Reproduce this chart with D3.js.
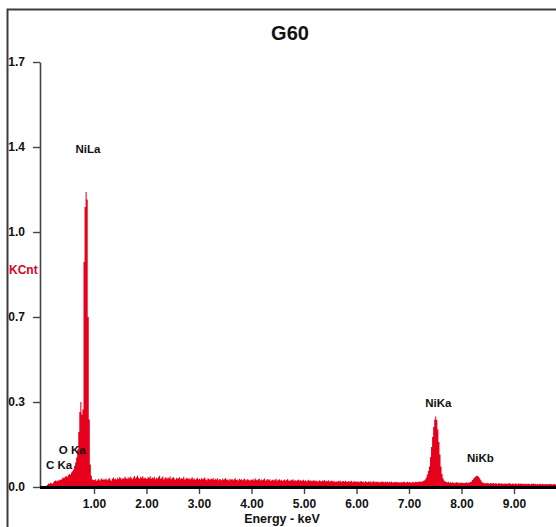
<!DOCTYPE html>
<html>
<head>
<meta charset="utf-8">
<script src="https://cdn.jsdelivr.net/npm/d3@7"></script>
<style>
  html, body { margin: 0; padding: 0; background: #fff; }
  svg { display: block; }
  text { font-family: "Liberation Sans", Arial, sans-serif; font-weight: bold; }
</style>
</head>
<body>
<svg id="chart" width="556" height="527"></svg>
<script>
// ---- data ----
const title = "G60";
const xLabel = "Energy - keV";
const yLabel = "KCnt";
const channelStart = 0.0;   // keV of first channel
const channelWidth = 0.02;  // keV per channel
// counts in units of 0.001 KCnt, one per channel (0.00 .. 9.98 keV)
const counts = [
  0,0,0,0,0,8,14,12,17,15,
  13,19,24,26,22,27,25,30,28,33,
  38,35,41,44,40,47,52,49,58,63,
  70,84,98,118,150,220,300,340,290,310,
  900,1120,1180,1150,680,270,90,45,30,28,
  27,31,24,29,33,26,30,35,28,32,
  29,34,27,31,36,30,25,33,38,31,
  34,29,37,32,40,35,30,36,33,41,
  36,32,39,34,42,37,31,38,44,35,
  39,46,36,33,41,37,43,34,38,35,
  32,40,36,44,33,38,35,41,31,37,
  34,39,45,33,37,42,30,36,39,33,
  38,35,43,31,36,40,34,29,37,33,
  35,39,31,36,33,41,30,34,37,32,
  36,30,34,39,31,35,28,33,37,30,
  33,29,36,31,34,38,30,27,35,32,
  29,34,31,36,28,33,30,35,27,32,
  30,27,34,29,32,36,28,31,26,33,
  29,32,27,31,35,28,30,26,33,29,
  31,27,30,34,26,29,32,28,25,30,
  28,32,26,35,29,27,31,33,26,30,
  27,30,34,25,29,32,27,31,24,28,
  30,26,29,33,25,28,31,26,29,24,
  27,30,25,28,32,26,24,29,27,31,
  25,28,23,27,30,25,28,24,26,29,
  24,27,22,26,29,24,27,23,25,28,
  23,26,24,21,27,25,22,26,24,28,
  22,25,23,27,21,24,26,22,25,20,
  23,21,25,22,26,20,23,24,21,25,
  22,20,24,21,23,25,19,22,24,20,
  21,23,19,22,24,20,22,18,23,21,
  19,22,20,23,18,21,24,19,21,20,
  22,18,21,19,23,20,18,22,19,21,
  18,21,19,22,17,20,19,21,18,20,
  19,17,21,18,20,22,17,19,21,18,
  20,18,17,21,19,18,22,19,20,23,
  20,22,21,24,26,30,38,50,64,82,
  120,160,200,240,270,282,268,230,180,130,
  82,52,34,26,22,20,18,21,17,19,
  16,19,17,15,18,20,16,18,15,17,
  18,16,15,17,19,16,18,17,20,22,
  28,34,38,42,45,44,40,34,27,21,
  17,15,16,14,17,15,13,16,14,15,
  16,13,15,14,12,16,14,13,15,12,
  14,13,15,12,14,16,13,12,14,13,
  12,14,13,11,15,12,13,14,11,13,
  12,13,11,14,12,10,13,12,14,11,
  13,11,12,10,13,12,11,13,10,12,
  11,12,10,13,11,12,10,11,12,10,
  11,10,12,11,10,11,12,10,11,10
];
const xTickValues = [1, 2, 3, 4, 5, 6, 7, 8, 9];
const yTickValues = [0, 0.34, 0.68, 1.02, 1.36, 1.70];
const yTickLabels = ["0.0", "0.3", "0.7", "1.0", "1.4", "1.7"];
const peakLabels = ["C Ka", "O Ka", "NiLa", "NiKa", "NiKb"];
const peakLabelEnergies = [0.335, 0.585, 0.885, 7.56, 8.36];
const peakLabelHeights = [0.072, 0.132, 1.336, 0.32, 0.10];

// ---- layout ----
const svg = d3.select("#chart");
const W = 556, H = 527;
const x = d3.scaleLinear().domain([0, 10]).range([41.5, 566.5]);
const y = d3.scaleLinear().domain([0, 1.7]).range([487, 62]);
const red = "#e5001c";

// frame
svg.append("rect")
  .attr("x", 7.5).attr("y", 9.5)
  .attr("width", W + 20).attr("height", H + 20)
  .attr("fill", "none").attr("stroke", "#3c3c3c").attr("stroke-width", 2);

// spectrum
const pts = counts.map((c, i) => ({ e: channelStart + i * channelWidth, v: c / 1000 }));
pts.push({ e: channelStart + counts.length * channelWidth, v: counts[counts.length - 1] / 1000 });
const area = d3.area()
  .x(d => x(d.e))
  .y0(y(0))
  .y1(d => y(d.v))
  .curve(d3.curveStepAfter);
svg.append("path")
  .datum(pts)
  .attr("d", area)
  .attr("fill", red)
  .attr("stroke", "none");

// y axis
const yAxis = d3.axisLeft(y)
  .tickValues(yTickValues)
  .tickFormat((d, i) => yTickLabels[i])
  .tickSize(7)
  .tickPadding(8)
  .tickSizeOuter(0);
const gy = svg.append("g").attr("transform", "translate(40,0)").call(yAxis);
gy.select(".domain").attr("stroke", "#444").attr("stroke-width", 1.6);
gy.selectAll(".tick line").attr("stroke", "#444").attr("stroke-width", 1.4);
gy.selectAll(".tick text")
  .attr("font-size", 12).attr("fill", "#111")
  .attr("font-family", "Liberation Sans, Arial, sans-serif").attr("font-weight", "bold");

// x axis
const xAxis = d3.axisBottom(x)
  .tickValues(xTickValues)
  .tickFormat(d3.format(".2f"))
  .tickSize(7)
  .tickPadding(5)
  .tickSizeOuter(0);
const gx = svg.append("g").attr("transform", "translate(0,487)").call(xAxis);
gx.select(".domain").remove();
svg.append("line")
  .attr("x1", 40).attr("x2", W + 10)
  .attr("y1", 487.5).attr("y2", 487.5)
  .attr("stroke", "#000").attr("stroke-width", 2.8);
gx.selectAll(".tick line").attr("stroke", "#444").attr("stroke-width", 1.4);
gx.selectAll(".tick text")
  .attr("font-size", 12).attr("fill", "#111")
  .attr("font-family", "Liberation Sans, Arial, sans-serif").attr("font-weight", "bold");

// title
svg.append("text")
  .attr("x", 290).attr("y", 40)
  .attr("text-anchor", "middle")
  .attr("font-size", 20)
  .attr("fill", "#111")
  .text(title);

// axis labels
svg.append("text")
  .attr("x", 282).attr("y", 523)
  .attr("text-anchor", "middle")
  .attr("font-size", 12.5)
  .attr("fill", "#111")
  .text(xLabel);
svg.append("text")
  .attr("x", 9).attr("y", 274)
  .attr("font-size", 12)
  .attr("fill", red)
  .text(yLabel);

// peak labels
svg.selectAll("text.peak")
  .data(peakLabels)
  .enter().append("text")
  .attr("class", "peak")
  .attr("x", (d, i) => x(peakLabelEnergies[i]))
  .attr("y", (d, i) => y(peakLabelHeights[i]))
  .attr("text-anchor", "middle")
  .attr("font-size", 11.5)
  .attr("fill", "#111")
  .text(d => d);
</script>
</body>
</html>
